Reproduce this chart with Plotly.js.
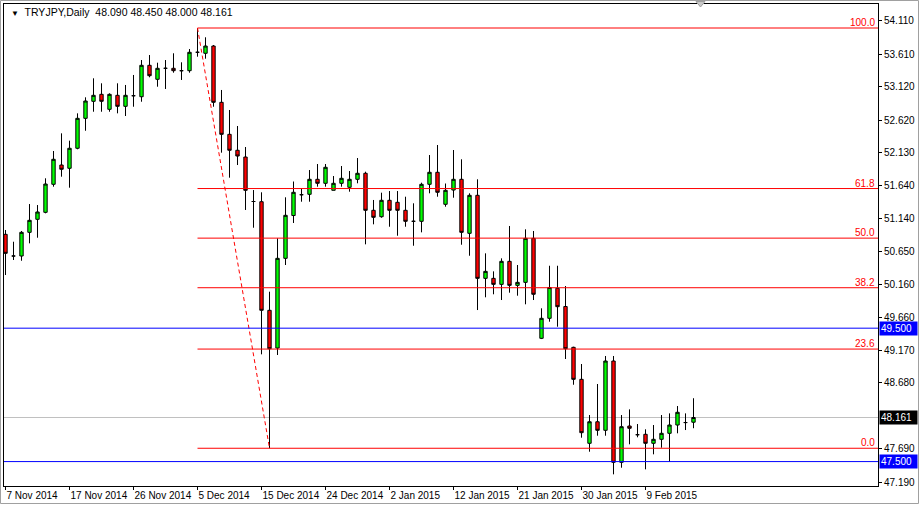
<!DOCTYPE html>
<html>
<head>
<meta charset="utf-8">
<script src="https://cdn.plot.ly/plotly-3.0.1.min.js"></script>
<style>html,body{margin:0;padding:0;background:#fff;}#chart{width:920px;height:506px;}</style>
</head>
<body>
<div id="chart"></div>
<script>
// ---- data (TRYJPY daily, one bar per session incl. Sunday bars) ----
const symbol = "TRYJPY,Daily";
const openP = [50.907,50.582,50.582,50.937,51.132,51.237,51.657,51.946,51.897,52.197,
  52.646,52.901,53.006,52.781,52.991,52.826,52.985,52.970,53.441,53.231,
  53.396,53.396,53.360,53.360,53.636,53.621,53.730,52.886,52.406,52.167,
  52.066,51.399,51.396,49.768,49.202,50.547,51.189,51.501,51.507,51.732,
  51.672,51.567,51.672,51.612,51.732,51.822,51.267,51.171,51.417,51.387,
  51.267,51.102,51.102,51.657,51.837,51.357,51.571,51.732,50.922,51.492,
  50.247,50.247,50.157,50.502,50.142,50.187,50.847,49.348,49.648,50.098,
  49.825,49.213,48.733,47.774,48.097,47.969,49.008,47.489,48.033,47.903,
  47.909,47.774,47.834,47.924,48.048,48.085,48.090];
const highP = [50.972,50.796,50.957,51.361,51.346,51.747,52.156,52.421,52.311,52.721,
  52.961,53.246,53.171,53.021,53.171,53.146,53.296,53.520,53.595,53.480,
  53.520,53.621,53.486,53.685,54.000,53.861,53.745,53.071,52.771,52.531,
  52.216,51.571,51.537,50.047,50.847,51.462,51.699,51.597,51.871,51.961,
  51.961,51.781,51.931,51.856,52.051,51.846,51.422,51.531,51.556,51.556,
  51.471,51.372,51.681,52.096,52.246,51.669,52.171,52.032,51.522,51.732,
  50.622,50.352,50.547,51.032,50.447,50.982,50.957,49.798,50.436,50.436,
  50.132,49.222,48.963,48.198,48.663,49.083,49.083,48.198,48.283,48.063,
  47.984,48.048,48.198,48.223,48.333,48.223,48.450];
const lowP = [50.297,50.522,50.511,50.772,50.856,51.222,51.621,51.771,51.606,52.182,
  52.460,52.745,52.745,52.745,52.721,52.681,52.820,52.895,53.261,53.120,
  53.086,53.330,53.221,53.330,53.570,53.540,52.820,52.131,51.756,51.946,
  51.272,51.006,49.108,47.700,49.098,50.447,51.077,51.396,51.396,51.621,
  51.621,51.567,51.621,51.546,51.672,50.757,51.057,51.156,51.021,50.886,
  51.021,50.736,50.937,51.522,51.471,51.321,51.456,50.751,50.586,49.772,
  49.963,50.008,49.922,50.032,49.987,49.858,49.922,49.337,49.597,49.522,
  49.038,48.652,47.858,47.648,47.888,47.888,47.309,47.408,47.759,47.864,
  47.384,47.609,47.708,47.498,47.924,47.973,48.000];
const closeP = [50.622,50.582,50.937,51.117,51.242,51.661,52.032,51.882,52.197,52.646,
  52.906,52.991,52.901,53.006,52.826,52.991,52.985,53.441,53.285,53.396,
  53.396,53.360,53.360,53.636,53.636,53.730,52.886,52.406,52.167,52.081,
  51.567,51.399,49.768,49.192,50.547,51.192,51.537,51.501,51.732,51.672,
  51.912,51.672,51.747,51.732,51.822,51.267,51.162,51.417,51.267,51.267,
  51.102,51.102,51.657,51.837,51.537,51.567,51.732,50.937,51.492,50.247,
  50.352,50.157,50.502,50.142,50.187,50.847,50.008,49.648,50.110,49.822,
  49.192,48.733,47.933,48.097,47.969,49.008,47.489,48.023,47.999,47.903,
  47.774,47.834,47.924,48.048,48.239,48.085,48.161];

const tickBars = [0,8,16,24,32,40,48,56,64,72,80];
const tickLabels = ["7 Nov 2014","17 Nov 2014","26 Nov 2014","5 Dec 2014","15 Dec 2014",
  "24 Dec 2014","2 Jan 2015","12 Jan 2015","21 Jan 2015","30 Jan 2015","9 Feb 2015"];
const priceTicks = [54.110,53.610,53.120,52.620,52.130,51.640,51.140,50.650,50.160,
  49.660,49.170,48.680,47.690,47.190];

const fibHigh = 54.000, fibLow = 47.700;
const fibHighBar = 24, fibLowBar = 33;
const fibLevels = [100.0, 61.8, 50.0, 38.2, 23.6, 0.0];
const blueLevels = [49.500, 47.500];

// ---- layout geometry ----
const W = 920, H = 506, ML = 4, MR = 42, MT = 4, MB = 20;
const PW = W - ML - MR, PH = H - MT - MB;
const xRange = [-0.1875, 109.0625];
const yRange = [47.134, 54.360];
const px = v => (v - ML) / PW;          // pixel -> paper x
const py = v => 1 - (v - MT) / PH;      // pixel -> paper y

const bars = openP.map((_, i) => i);
const last = openP.length - 1;
const bid = closeP[last];
const FONT = 'Liberation Sans, Arial, sans-serif';

const trace = {
  type: 'candlestick',
  x: bars, open: openP, high: highP, low: lowP, close: closeP,
  increasing: {line: {color: '#000000', width: 1}, fillcolor: '#00ff00'},
  decreasing: {line: {color: '#000000', width: 1}, fillcolor: '#ff0000'},
  whiskerwidth: 0,
  hoverinfo: 'skip',
  showlegend: false
};

const shapes = [];
const annotations = [];
const fibPrice = lv => fibLow + (fibHigh - fibLow) * lv / 100;

fibLevels.forEach(lv => {
  const p = fibPrice(lv);
  shapes.push({type: 'line', xref: 'x', yref: 'y', x0: fibHighBar, x1: xRange[1], y0: p, y1: p,
    line: {color: '#ff0000', width: 1}});
  annotations.push({xref: 'paper', yref: 'y', x: 1, y: p, xanchor: 'right', yanchor: 'bottom',
    xshift: -1, yshift: -2, text: lv.toFixed(1), showarrow: false,
    font: {family: FONT, size: 10, color: '#ff0000'}});
});
shapes.push({type: 'line', xref: 'x', yref: 'y', x0: fibHighBar, y0: fibHigh, x1: fibLowBar, y1: fibLow,
  line: {color: '#ff0000', width: 1, dash: '4px,3px'}});

blueLevels.forEach(p => {
  shapes.push({type: 'line', xref: 'paper', yref: 'y', x0: 0, x1: 1, y0: p, y1: p,
    line: {color: '#0000ff', width: 1}});
  annotations.push({xref: 'paper', yref: 'y', x: 1, y: p, xanchor: 'left', yanchor: 'middle',
    xshift: 1, text: p.toFixed(3), showarrow: false, bgcolor: '#0000ff', borderpad: 1,
    width: 35, align: 'left',
    font: {family: FONT, size: 10, color: '#ffffff'}});
});

// bid line
shapes.push({type: 'line', xref: 'paper', yref: 'y', x0: 0, x1: 1, y0: bid, y1: bid,
  line: {color: '#c0c0c0', width: 1}, layer: 'below'});
annotations.push({xref: 'paper', yref: 'y', x: 1, y: bid, xanchor: 'left', yanchor: 'middle',
  xshift: 1, text: bid.toFixed(3), showarrow: false, bgcolor: '#000000', borderpad: 1,
  width: 35, align: 'left',
  font: {family: FONT, size: 10, color: '#ffffff'}});

// header
annotations.push({xref: 'paper', yref: 'paper', x: px(9), y: py(12), xanchor: 'left', yanchor: 'middle',
  showarrow: false,
  text: '<span style="font-size:8px">▼</span>  ' + symbol + '  ' +
    [openP[last], highP[last], lowP[last], closeP[last]].map(v => v.toFixed(3)).join(' '),
  font: {family: FONT, size: 10.5, color: '#000000'}});

// window border and chart-shift marker
shapes.push({type: 'rect', xref: 'paper', yref: 'paper', x0: px(0.5), x1: px(918.5), y0: py(503.5), y1: py(0.5),
  line: {color: '#a0a0a0', width: 1}});
shapes.push({type: 'path', xref: 'paper', yref: 'paper',
  path: `M ${px(696)} ${py(1.5)} L ${px(705)} ${py(1.5)} L ${px(700.5)} ${py(7)} Z`,
  fillcolor: '#c8c8c8', line: {color: '#a0a0a0', width: 1}});

const layout = {
  width: W, height: H,
  margin: {l: ML, r: MR, t: MT, b: MB, pad: 0},
  paper_bgcolor: '#ffffff', plot_bgcolor: '#ffffff',
  showlegend: false,
  boxgap: 0.4,
  font: {family: FONT, size: 10, color: '#000000'},
  xaxis: {
    type: 'linear', range: xRange, fixedrange: true,
    rangeslider: {visible: false},
    tickmode: 'array', tickvals: tickBars, ticktext: tickLabels,
    ticks: 'outside', ticklen: 3, tickcolor: '#000000',
    ticklabelposition: 'outside right',
    tickangle: 0, automargin: false,
    tickfont: {size: 10, color: '#000000'},
    showline: true, linecolor: '#000000', linewidth: 1, mirror: true,
    showgrid: false, zeroline: false
  },
  yaxis: {
    side: 'right', range: yRange, fixedrange: true, automargin: false,
    tickmode: 'array', tickvals: priceTicks, tickformat: '.3f',
    ticks: 'outside', ticklen: 3, tickcolor: '#000000',
    tickfont: {size: 10, color: '#000000'},
    showline: true, linecolor: '#000000', linewidth: 1, mirror: true,
    showgrid: false, zeroline: false
  },
  shapes: shapes,
  annotations: annotations
};

Plotly.newPlot('chart', [trace], layout, {displayModeBar: false, staticPlot: true});
</script>
</body>
</html>
